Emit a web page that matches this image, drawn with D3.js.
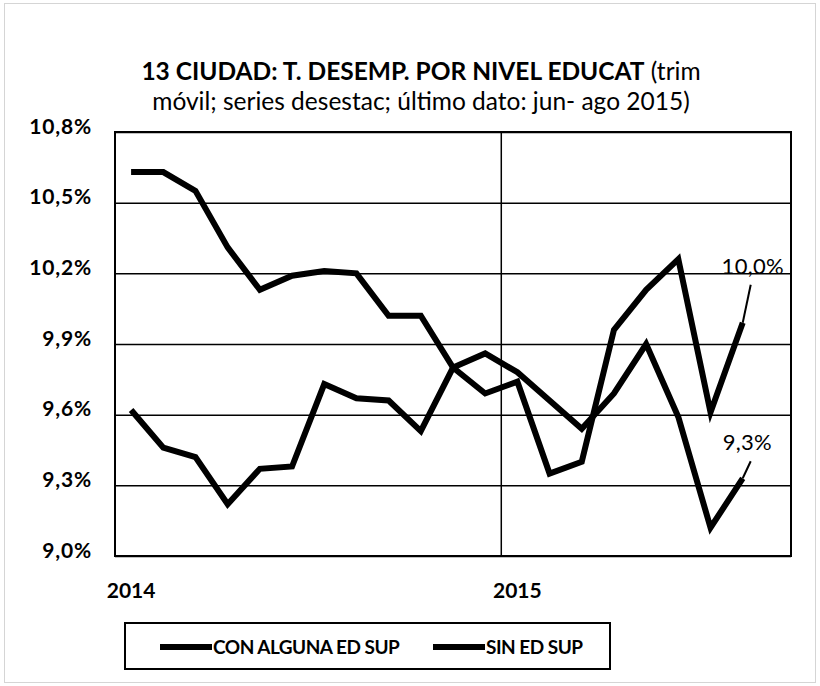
<!DOCTYPE html>
<html>
<head>
<meta charset="utf-8">
<script src="https://cdn.jsdelivr.net/npm/d3@7"></script>
<style>
  body { margin: 0; background: #fff; }
  svg { display: block; font-family: Lato, "Open Sans", sans-serif; }
</style>
</head>
<body>
<div id="chart"></div>
<script>
// meses ene 2014 .. sep 2015 (el ultimo sin dato)
const months = ["ene","feb","mar","abr","may","jun","jul","ago","sep","oct","nov","dic"];
const categories = [];
for (let i = 0; i < 21; i++) categories.push(months[i % 12] + " " + (2014 + Math.floor(i / 12)));

const yearLabels = [{ cat: "ene 2014", label: "2014" }, { cat: "ene 2015", label: "2015" }];
const yTicks = [9.0, 9.3, 9.6, 9.9, 10.2, 10.5, 10.8];

const conAlguna = [10.63, 10.63, 10.55, 10.31, 10.13, 10.19, 10.21, 10.20, 10.02, 10.02,
                   9.80, 9.69, 9.74, 9.35, 9.40, 9.96, 10.13, 10.26, 9.61, 9.99];
const sinEdSup  = [9.62, 9.46, 9.42, 9.22, 9.37, 9.38, 9.73, 9.67, 9.66, 9.53,
                   9.80, 9.86, 9.78, 9.66, 9.54, 9.69, 9.90, 9.59, 9.12, 9.33];

const seriesNames = ["CON ALGUNA ED SUP", "SIN ED SUP"];
const endLabels = ["10,0%", "9,3%"];

const width = 820, height = 686;
const margin = { top: 132, right: 29, bottom: 130, left: 115 };

const svg = d3.select("#chart").append("svg")
    .attr("width", width)
    .attr("height", height);

// marco exterior
svg.append("rect")
    .attr("x", 4.5).attr("y", 3.5)
    .attr("width", 811).attr("height", 679)
    .attr("fill", "none")
    .attr("stroke", "#aaa")
    .attr("stroke-width", 1)
    .attr("stroke-dasharray", "1,1");

// titulo
const title = svg.append("text")
    .attr("x", 421)
    .attr("text-anchor", "middle")
    .attr("font-size", "24.5px")
    .attr("fill", "#000");
title.append("tspan").attr("x", 421).attr("y", 80)
    .attr("font-weight", "bold").text("13 CIUDAD: T. DESEMP. POR NIVEL EDUCAT");
title.append("tspan").text(" (trim");
title.append("tspan").attr("x", 421).attr("y", 110)
    .text("móvil; series desestac; último dato: jun- ago 2015)");

const x = d3.scaleBand()
    .domain(categories)
    .range([margin.left, width - margin.right])
    .padding(0);

const y = d3.scaleLinear()
    .domain([9.0, 10.8])
    .range([height - margin.bottom, margin.top]);

const fmt = v => d3.format(".1f")(v).replace(".", ",") + "%";

// grid horizontal
svg.append("g")
    .attr("transform", `translate(${margin.left},0)`)
    .call(d3.axisLeft(y)
        .tickValues(yTicks)
        .tickSize(-(width - margin.left - margin.right))
        .tickFormat(fmt))
    .call(g => g.select(".domain").remove())
    .call(g => g.selectAll("line").attr("stroke", "#000").attr("stroke-width", 1.5))
    .call(g => g.selectAll("text")
        .attr("x", -23)
        .attr("dy", "0.05em")
        .attr("font-family", "Lato, sans-serif")
        .attr("font-weight", "bold")
        .attr("font-size", "21px")
        .attr("letter-spacing", "0.8px")
        .attr("fill", "#000"));

// grid vertical (inicio de cada año)
svg.append("g")
    .selectAll("line")
    .data(yearLabels)
    .enter()
    .append("line")
    .attr("x1", d => x(d.cat))
    .attr("x2", d => x(d.cat))
    .attr("y1", margin.top)
    .attr("y2", height - margin.bottom)
    .attr("stroke", "#000")
    .attr("stroke-width", 1.5);

// borde del area
svg.append("rect")
    .attr("x", margin.left)
    .attr("y", margin.top)
    .attr("width", width - margin.left - margin.right)
    .attr("height", height - margin.top - margin.bottom)
    .attr("fill", "none")
    .attr("stroke", "#000")
    .attr("stroke-width", 2);

// etiquetas de años
svg.append("g")
    .selectAll("text")
    .data(yearLabels)
    .enter()
    .append("text")
    .attr("x", d => x(d.cat) + x.bandwidth() / 2)
    .attr("y", 598)
    .attr("text-anchor", "middle")
    .attr("font-weight", "bold")
    .attr("font-size", "21px")
    .attr("fill", "#000")
    .text(d => d.label);

// lineas
const line = d3.line()
    .x((d, i) => x(categories[i]) + x.bandwidth() / 2)
    .y(d => y(d));

const data = [conAlguna, sinEdSup];

svg.append("g")
    .selectAll("path")
    .data(data)
    .enter()
    .append("path")
    .attr("d", d => line(d))
    .attr("fill", "none")
    .attr("stroke", "#000")
    .attr("stroke-width", 6)
    .attr("stroke-linejoin", "miter");

// etiquetas del ultimo dato con linea guia
data.forEach((d, k) => {
    const i = d.length - 1;
    const px = x(categories[i]) + x.bandwidth() / 2;
    const py = y(d[i]);
    const ly = k === 0 ? py - 38 : py - 17;
    svg.append("line")
        .attr("x1", px).attr("y1", py)
        .attr("x2", px + 8).attr("y2", ly)
        .attr("stroke", "#000")
        .attr("stroke-width", 2);
    svg.append("text")
        .attr("x", k === 0 ? 784 : 772)
        .attr("y", ly - 11)
        .attr("text-anchor", "end")
        .attr("font-size", "22px")
        .attr("letter-spacing", "0.3px")
        .attr("fill", "#000")
        .text(endLabels[k]);
});

// leyenda
const legend = svg.append("g");
legend.append("rect")
    .attr("x", 125).attr("y", 623)
    .attr("width", 485).attr("height", 46)
    .attr("fill", "#fff")
    .attr("stroke", "#000")
    .attr("stroke-width", 2);

const legendX = [160, 433];
seriesNames.forEach((name, k) => {
    legend.append("line")
        .attr("x1", legendX[k]).attr("x2", legendX[k] + 52)
        .attr("y1", 647).attr("y2", 647)
        .attr("stroke", "#000")
        .attr("stroke-width", 6);
    legend.append("text")
        .attr("x", legendX[k] + 53)
        .attr("y", 654)
        .attr("font-weight", "bold")
        .attr("font-size", "19px")
        .attr("letter-spacing", "-0.5px")
        .attr("fill", "#000")
        .text(name);
});
</script>
</body>
</html>
